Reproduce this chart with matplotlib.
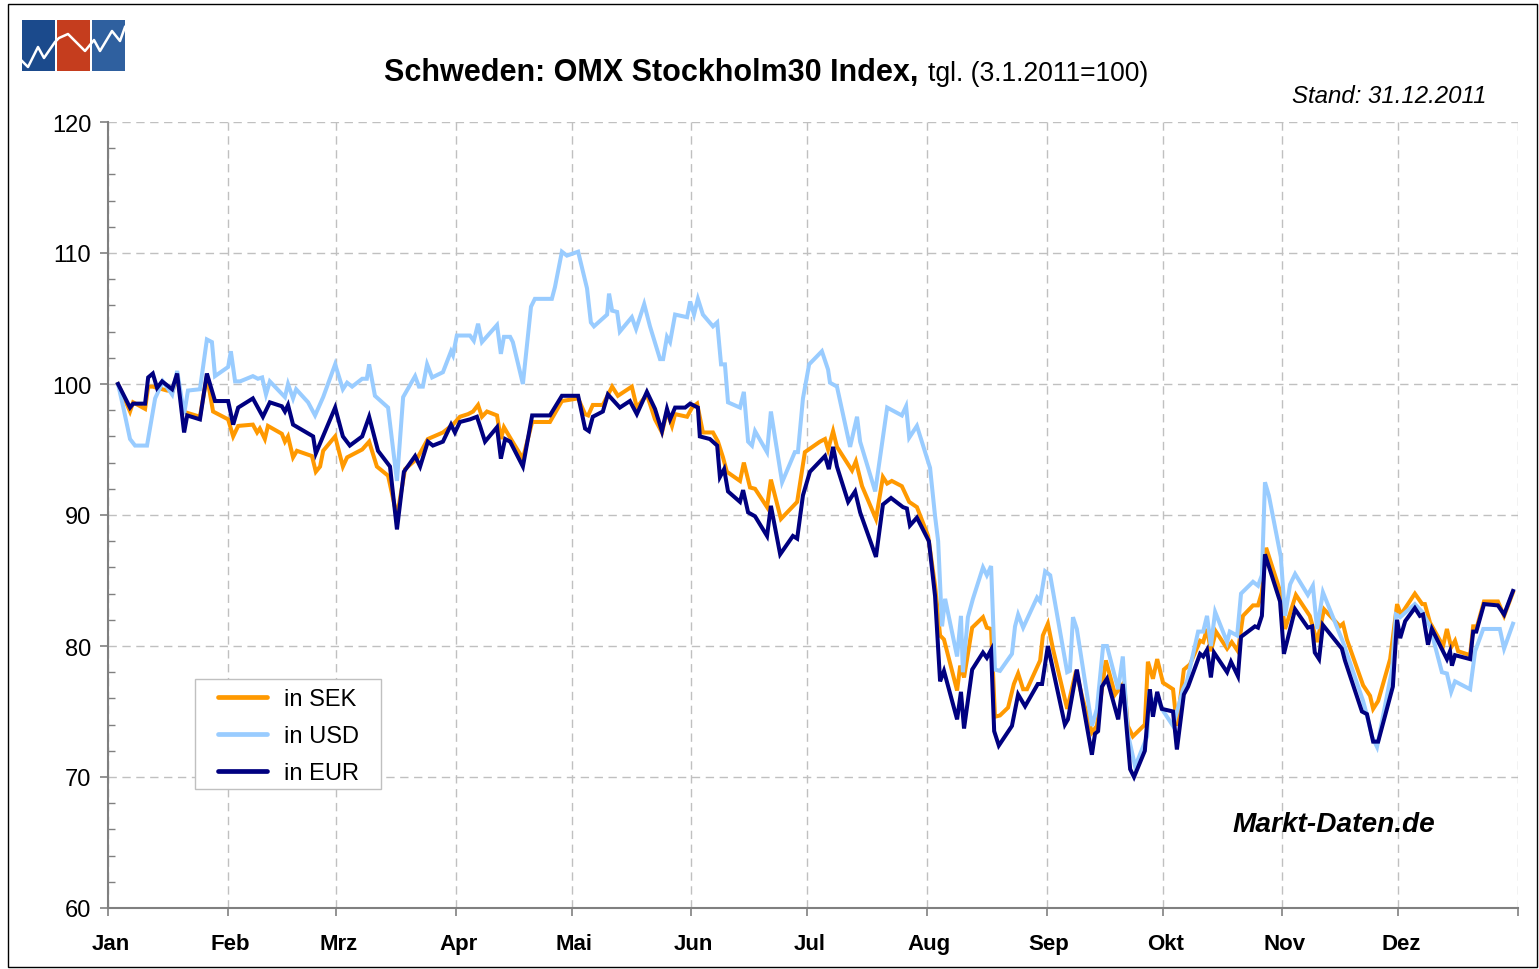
import matplotlib
matplotlib.use("Agg")
import matplotlib.pyplot as plt
import matplotlib.transforms as mtransforms
from matplotlib.patches import Rectangle
from matplotlib.lines import Line2D
from matplotlib.ticker import MultipleLocator, FixedLocator

plt.rcParams['font.family'] = ['Liberation Sans', 'DejaVu Sans']

# ---------------- data ----------------
month_starts = [0, 31, 59, 90, 120, 151, 181, 212, 243, 273, 304, 334, 365]
month_labels = ['Jan', 'Feb', 'Mrz', 'Apr', 'Mai', 'Jun', 'Jul', 'Aug', 'Sep', 'Okt', 'Nov', 'Dez']

# day of year (0 = 1 Jan 2011), index value (3.1.2011 = 100)
sek_days = [2.6, 5.7, 6.5, 9.6, 10.4, 11.6, 15.3, 16.8, 17.9, 19.4, 23.8, 25.6, 27.2, 31.1, 32.4,
            33.7, 37.5, 38.6, 39.3, 40.6, 41.4, 45.0, 45.8, 46.6, 47.9, 48.9, 52.8, 53.8, 54.9, 55.7,
            58.8, 60.8, 61.9, 65.8, 67.6, 69.6, 72.5, 74.8, 76.9, 80.0, 82.8, 86.7, 89.3, 91.1, 93.2,
            94.5, 95.8, 96.8, 98.1, 100.7, 101.7, 102.5, 104.3, 107.4, 109.8, 114.4, 117.5, 121.7, 123.5,
            124.3, 125.5, 128.1, 130.5, 132.0, 135.6, 136.9, 139.5, 141.6, 143.4, 144.7, 146.0, 146.8,
            149.9, 151.2, 152.5, 154.0, 156.6, 157.9, 159.2, 160.2, 163.6, 164.6, 166.2, 167.5, 170.6,
            171.6, 174.2, 178.4, 180.4, 184.3, 185.6, 186.4, 187.7, 188.7, 192.6, 193.6, 195.2, 198.8,
            200.6, 201.7, 202.9, 205.5, 207.4, 209.4, 212.3, 214.1, 215.4, 216.4, 219.8, 220.6, 221.6,
            223.7, 226.5, 227.5, 228.6, 229.6, 230.9, 233.0, 234.5, 235.6, 236.9, 237.9, 241.3, 242.0,
            243.3, 244.6, 248.3, 250.6, 252.1, 254.7, 256.0, 258.3, 260.7, 263.0, 264.0, 265.3, 268.4,
            269.2, 270.5, 271.6, 273.1, 275.7, 276.7, 278.5, 280.1, 282.7, 283.5, 284.5, 285.5, 286.8,
            289.7, 290.9, 292.5, 293.8, 296.4, 297.7, 298.7, 299.8, 303.4, 304.7, 307.5, 311.1, 313.0,
            314.8, 318.9, 319.7, 320.7, 324.9, 326.7, 327.5, 328.8, 331.9, 333.7, 334.7, 338.3, 340.2,
            340.9, 342.2, 345.6, 346.6, 347.7, 348.7, 349.5, 352.6, 353.4, 354.4, 356.2, 359.8, 361.4,
            363.7]
sek_vals = [100.0, 97.9, 98.6, 98.1, 99.8, 99.8, 99.5, 99.5, 100.6, 97.9, 97.5, 100.6, 97.9, 97.3, 96.0,
            96.8, 96.9, 96.3, 96.6, 95.8, 96.8, 96.2, 95.6, 96.0, 94.4, 94.9, 94.5, 93.3, 93.7, 94.9,
            96.0, 93.7, 94.4, 95.0, 95.6, 93.7, 93.0, 89.9, 93.5, 94.3, 95.8, 96.3, 96.9, 97.5, 97.7,
            97.9, 98.4, 97.5, 97.9, 97.6, 95.8, 96.7, 95.8, 94.3, 97.1, 97.1, 98.7, 98.9, 97.7,
            97.6, 98.4, 98.4, 99.8, 99.1, 99.8, 98.2, 99.2, 97.3, 96.3, 97.9, 96.8, 97.7,
            97.5, 98.2, 98.5, 96.3, 96.3, 95.6, 94.4, 93.3, 92.6, 94.0, 92.1, 92.0, 90.6,
            92.7, 89.7, 91.0, 94.8, 95.6, 95.8, 95.0, 96.4, 95.2, 93.4, 94.1, 92.2, 89.7,
            92.9, 92.4, 92.6, 92.2, 91.0, 90.6, 88.4, 84.6, 80.8, 80.5, 76.6, 78.5, 77.6,
            81.4, 82.2, 81.4, 81.3, 74.6, 74.7, 75.3, 77.1, 77.9, 76.7, 76.7, 78.9, 80.8,
            81.7, 79.8, 75.2, 78.1, 76.2, 73.4, 73.9, 78.9, 76.3, 77.2, 73.9, 73.1, 74.0,
            78.8, 77.5, 79.0, 77.2, 76.7, 73.9, 78.2, 78.6, 80.4, 80.3, 81.3, 79.6, 81.1,
            79.8, 80.3, 79.6, 82.3, 83.1, 83.1, 84.1, 87.5, 84.2, 81.3, 83.9, 82.3, 80.3,
            82.8, 81.5, 81.7, 80.5, 77.0, 76.2, 75.2, 75.8, 79.0, 83.2, 82.4, 84.0, 83.2,
            83.2, 81.8, 80.0, 81.3, 79.9, 80.4, 79.6, 79.3, 81.5, 81.5, 83.4, 83.4, 82.3,
            84.1]

usd_days = [2.6, 3.9, 5.7, 7.0, 10.1, 12.2, 14.2, 16.6, 17.9, 19.7, 20.7, 23.8, 25.6, 26.9, 27.7,
            31.1, 31.8, 32.9, 34.2, 37.5, 38.8, 39.9, 40.9, 41.9, 45.8, 46.6, 47.9, 48.7, 51.8, 53.6,
            55.7, 58.8, 60.8, 61.9, 63.2, 65.8, 67.0, 67.6, 69.1, 72.5, 74.8, 76.4, 79.5, 80.5, 81.5,
            82.6, 83.9, 86.7, 88.8, 89.3, 90.3, 93.7, 94.7, 95.8, 96.8, 100.7, 101.7, 102.5, 104.1,
            104.8, 107.4, 109.5, 110.5, 114.9, 115.7, 117.5, 118.8, 121.7, 124.0, 125.0, 125.8, 129.2,
            129.7, 130.5, 131.8, 132.5, 135.6, 136.7, 138.8, 140.3, 142.9, 143.7, 144.7, 145.5, 146.8,
            149.9, 150.7, 151.7, 152.7, 154.0, 156.6, 157.7, 158.7, 159.7, 160.5, 163.6, 164.6, 165.7,
            166.7, 167.5, 170.6, 171.6, 174.5, 177.8, 178.6, 179.9, 181.5, 184.8, 186.4, 186.9, 188.7,
            192.1, 193.9, 194.7, 198.6, 201.7, 205.5, 206.6, 207.4, 209.4, 212.8, 214.1, 214.9, 215.9,
            216.7, 219.8, 220.8, 221.3, 222.6, 223.9, 226.5, 227.5, 228.6, 229.6, 230.9, 234.0, 234.8,
            235.6, 236.9, 240.5, 241.3, 242.6, 243.9, 248.3, 249.0, 249.8, 250.8, 254.7, 256.0, 257.6,
            258.6, 261.5, 262.7, 264.0, 265.9, 269.0, 269.5, 270.5, 271.6, 272.8, 275.7, 278.3, 279.3,
            282.2, 283.5, 284.5, 285.5, 286.6, 289.7, 290.4, 292.3, 293.3, 296.4, 297.7, 298.7, 299.5,
            300.5, 303.6, 304.7, 306.0, 307.3, 310.6, 311.9, 313.0, 314.5, 319.7, 324.9, 325.9, 327.2,
            328.5, 332.4, 333.4, 334.5, 338.3, 340.2, 342.2, 345.3, 346.6, 347.7, 348.7, 352.6, 353.9,
            356.0, 360.3, 361.4, 363.7]
usd_vals = [100.0, 98.3, 95.8, 95.3, 95.3, 98.9, 100.2, 99.2, 101.0, 97.7, 99.5, 99.6, 103.4, 103.2, 100.6,
            101.3, 102.5, 100.2, 100.2, 100.6, 100.4, 100.5, 99.2, 100.2, 99.0, 100.0, 98.9, 99.6, 98.6, 97.6,
            99.0, 101.5, 99.6, 100.1, 99.8, 100.4, 100.4, 101.5, 99.1, 98.2, 92.6, 99.0, 100.6, 99.8, 99.8,
            101.5, 100.5, 100.9, 102.5, 102.2, 103.7, 103.7, 103.3, 104.6, 103.2, 104.5, 102.3, 103.6, 103.6,
            103.2, 100.0, 105.9, 106.5, 106.5, 107.4, 110.1, 109.8, 110.1, 107.3, 104.7, 104.4, 105.3,
            106.9, 105.6, 105.5, 104.0, 105.1, 104.2, 106.1, 104.4, 101.9, 101.9, 103.6, 103.2, 105.3,
            105.1, 106.3, 105.3, 106.5, 105.3, 104.4, 104.7, 101.5, 101.5, 98.6, 98.2, 99.4, 95.6,
            95.3, 96.4, 94.8, 97.9, 92.5, 94.8, 94.8, 98.9, 101.5, 102.5, 101.1, 100.1, 99.8,
            95.2, 97.5, 95.6, 91.8, 98.2, 97.6, 98.3, 95.9, 96.8, 93.6, 89.9, 88.0, 81.5,
            83.6, 79.2, 82.3, 78.0, 82.2, 83.6, 86.0, 85.4, 86.1, 78.2, 78.1, 79.4, 81.5,
            82.4, 81.4, 83.7, 83.4, 85.7, 85.4, 78.0, 78.1, 82.2, 81.3, 73.9, 75.2, 80.0,
            80.0, 76.7, 79.2, 73.3, 70.8, 73.1, 76.2, 75.8, 76.1, 75.2, 73.9, 76.7, 77.3,
            81.1, 81.1, 82.3, 80.0, 82.6, 80.3, 81.1, 80.8, 84.0, 84.9, 84.6, 85.4, 92.5,
            91.5, 86.8, 82.3, 84.7, 85.5, 83.9, 84.6, 81.3, 84.1, 80.3, 75.8, 74.7, 73.1,
            72.3, 78.2, 82.4, 82.2, 83.2, 82.6, 81.5, 78.0, 77.9, 76.5, 77.3, 76.7, 79.6,
            81.3, 81.3, 79.8, 81.7]

eur_days = [2.6, 5.7, 6.5, 9.6, 10.4, 11.6, 12.7, 14.0, 16.6, 17.9, 19.7, 20.5, 23.8, 25.6, 27.7,
            31.1, 32.4, 33.7, 37.5, 40.1, 41.9, 45.0, 45.8, 46.6, 47.9, 53.1, 53.8, 58.8, 60.8, 62.6,
            65.8, 67.6, 69.9, 73.0, 74.8, 76.6, 79.5, 80.8, 82.8, 84.1, 86.7, 88.8, 89.8, 91.1, 93.7,
            95.5, 96.3, 97.6, 100.7, 101.7, 102.8, 104.1, 107.4, 109.8, 114.4, 117.5, 121.7, 123.5,
            124.5, 125.5, 128.1, 129.4, 132.5, 135.1, 136.9, 139.5, 141.6, 143.4, 144.7, 145.5, 146.8,
            149.4, 150.7, 152.7, 153.2, 155.8, 157.7, 158.4, 159.5, 160.5, 163.6, 164.4, 165.7, 167.5,
            170.6, 171.6, 174.0, 177.3, 178.4, 179.9, 181.7, 185.6, 186.6, 187.7, 188.7, 191.6, 193.4,
            194.7, 198.8, 200.6, 202.7, 205.8, 206.8, 207.6, 209.4, 212.5, 214.1, 215.4, 216.4, 219.8,
            220.8, 221.6, 223.7, 226.5, 227.5, 228.6, 229.4, 230.6, 234.0, 235.6, 237.4, 240.7, 241.8,
            243.3, 247.7, 248.5, 250.8, 254.7, 255.5, 256.3, 257.3, 258.6, 261.5, 262.7, 264.6, 265.6,
            268.4, 269.7, 270.5, 271.6, 272.8, 275.7, 276.7, 278.5, 279.6, 282.7, 283.5, 284.5, 285.5,
            286.3, 289.7, 290.7, 292.5, 293.3, 296.9, 297.7, 298.7, 299.5, 303.4, 304.4, 307.3, 310.6,
            311.7, 312.4, 313.5, 314.5, 319.4, 320.2, 324.6, 325.9, 327.5, 328.8, 332.6, 333.7, 334.5,
            335.8, 338.3, 339.6, 340.4, 341.7, 342.7, 345.6, 346.6, 347.4, 347.9, 348.7, 352.6, 353.4,
            354.2, 356.2, 359.8, 361.4, 363.7]
eur_vals = [100.0, 98.2, 98.5, 98.5, 100.5, 100.8, 99.7, 100.2, 99.6, 100.8, 96.3, 97.6, 97.3, 100.8, 98.7,
            98.7, 96.9, 98.2, 98.9, 97.5, 98.6, 98.3, 97.9, 98.4, 96.9, 96.0, 94.7, 98.2, 96.0, 95.3,
            96.0, 97.5, 94.9, 93.7, 88.9, 93.3, 94.5, 93.7, 95.6, 95.3, 95.6, 96.9, 96.3, 97.1, 97.3,
            97.5, 96.8, 95.6, 96.7, 94.3, 95.8, 95.6, 93.7, 97.6, 97.6, 99.1, 99.1, 96.6,
            96.4, 97.5, 97.9, 99.2, 98.2, 98.7, 97.7, 99.4, 98.1, 96.4, 98.1, 97.3, 98.2,
            98.2, 98.5, 98.2, 96.0, 95.8, 95.3, 92.9, 93.5, 91.8, 91.0, 91.9, 90.2, 89.9,
            88.4, 90.7, 87.0, 88.4, 88.2, 91.5, 93.3, 94.5, 93.5, 95.2, 93.7, 91.0, 91.8,
            90.2, 86.8, 90.8, 91.3, 90.6, 90.5, 89.2, 89.8, 88.0, 83.8, 77.3, 78.1, 74.4,
            76.5, 73.7, 78.2, 79.5, 79.1, 79.7, 73.5, 72.4, 73.9, 76.3, 75.4, 77.1, 77.1,
            80.0, 74.0, 74.4, 78.2, 71.7, 73.3, 73.5, 76.9, 77.5, 74.4, 77.1, 70.6, 70.0,
            72.0, 76.7, 74.6, 76.5, 75.2, 75.0, 72.1, 76.3, 76.9, 79.4, 79.2, 79.7, 77.6,
            79.5, 78.0, 78.8, 77.7, 80.7, 81.5, 81.4, 82.3, 87.0, 83.4, 79.4, 82.8, 81.4,
            81.5, 79.5, 79.0, 81.6, 79.8, 78.9, 75.0, 74.8, 72.7, 72.7, 76.9, 82.0, 80.6,
            81.9, 82.9, 82.3, 82.4, 80.1, 81.3, 79.6, 79.0, 79.6, 78.5, 79.3, 79.0, 81.1,
            81.1, 83.2, 83.1, 82.4, 84.2]

series_names = ['in SEK', 'in USD', 'in EUR']
series_colors = ['#FF9900', '#99CCFF', '#000080']

# ---------------- figure ----------------
W, H = 1539, 970
fig = plt.figure(figsize=(W / 100, H / 100), dpi=100)
fig.patch.set_facecolor('white')

# outer frame
fig.add_artist(Rectangle((8 / W, 1 - 968 / H), (1537 - 8) / W, (968 - 5) / H,
                         transform=fig.transFigure, fill=False, edgecolor='black', linewidth=1.0))

ax = fig.add_axes([108 / W, 1 - 909 / H, (1518 - 108) / W, (909 - 123) / H])

for d, v, c, n in zip([sek_days, usd_days, eur_days], [sek_vals, usd_vals, eur_vals],
                      series_colors, series_names):
    ax.plot(d, v, color=c, linewidth=2.9, label=n, solid_joinstyle='miter', zorder=3)

ax.set_xlim(0, 365)
ax.set_ylim(60, 120)

ax.xaxis.set_major_locator(FixedLocator(month_starts))
ax.set_xticklabels(month_labels + [''])
ax.yaxis.set_major_locator(MultipleLocator(10))
ax.yaxis.set_minor_locator(MultipleLocator(2))

grid_kw = dict(color='#C0C0C0', linewidth=1.0, linestyle=(0, (6, 4)))
ax.grid(True, which='major', axis='both', **grid_kw)
ax.set_axisbelow(True)

for s in ['top', 'right']:
    ax.spines[s].set_visible(False)
for s in ['left', 'bottom']:
    ax.spines[s].set_color('#808080')
    ax.spines[s].set_linewidth(1.5)

ax.tick_params(axis='y', which='major', direction='out', length=6, width=1.2, color='#808080',
               labelsize=17, pad=6)
ax.tick_params(axis='y', which='minor', direction='in', length=5, width=1.0, color='#808080')
ax.tick_params(axis='x', which='major', direction='out', length=6, width=1.2, color='#808080',
               labelsize=16, pad=12)
shift = mtransforms.ScaledTranslation(2.5 / 100, 0, fig.dpi_scale_trans)
for lab in ax.get_xticklabels():
    lab.set_fontweight('bold')
    lab.set_transform(lab.get_transform() + shift)

# legend frame (white box drawn inside the axes, below the legend)
ax.add_patch(Rectangle((195 / W, 1 - 790 / H), (381 - 195) / W, (790 - 680) / H,
                       transform=fig.transFigure, fill=True, facecolor='white',
                       edgecolor='#C0C0C0', linewidth=1.0, zorder=4, clip_on=False))
leg = ax.legend(loc='lower left', bbox_to_anchor=((206 - 108) / 1410, (909 - 797) / 786),
                fontsize=17, frameon=False,
                handlelength=2.08, handletextpad=0.74, labelspacing=0.63, borderpad=0.5,
                borderaxespad=0)
leg.set_zorder(6)
for line in leg.get_lines():
    line.set_linewidth(3.4)
    line.set_solid_capstyle('round')

# titles
fig.text(918 / W, 1 - 81 / H, 'Schweden: OMX Stockholm30 Index,', ha='right', va='baseline',
         fontsize=22, fontweight='bold')
fig.text(928 / W, 1 - 81 / H, 'tgl. (3.1.2011=100)', ha='left', va='baseline', fontsize=19.1)
fig.text(1486 / W, 1 - 103 / H, 'Stand: 31.12.2011', ha='right', va='baseline', fontsize=17.3,
         fontstyle='italic')
fig.text(1435 / W, 1 - 832 / H, 'Markt-Daten.de', ha='right', va='baseline', fontsize=20.2,
         fontstyle='italic', fontweight='bold')

# logo
logo = fig.add_axes([22 / W, 1 - 72 / H, (125 - 22) / W, (72 - 21) / H])
logo.set_xlim(0, 103)
logo.set_ylim(0, 51)
logo.axis('off')
for x0, col in [(0, '#1B4A8C'), (35, '#C53D1E'), (70, '#2F609F')]:
    logo.add_patch(Rectangle((x0, 0), 33, 51, facecolor=col, edgecolor='none'))
logo.add_line(Line2D([0, 6, 16, 22, 33, 37, 46, 63, 72, 78, 90, 98, 103],
                     [10, 4, 24, 13, 29, 33, 37, 20, 31, 20, 40, 30, 44],
                     color='white', linewidth=1.8))

fig.savefig('out.png', dpi=100)
